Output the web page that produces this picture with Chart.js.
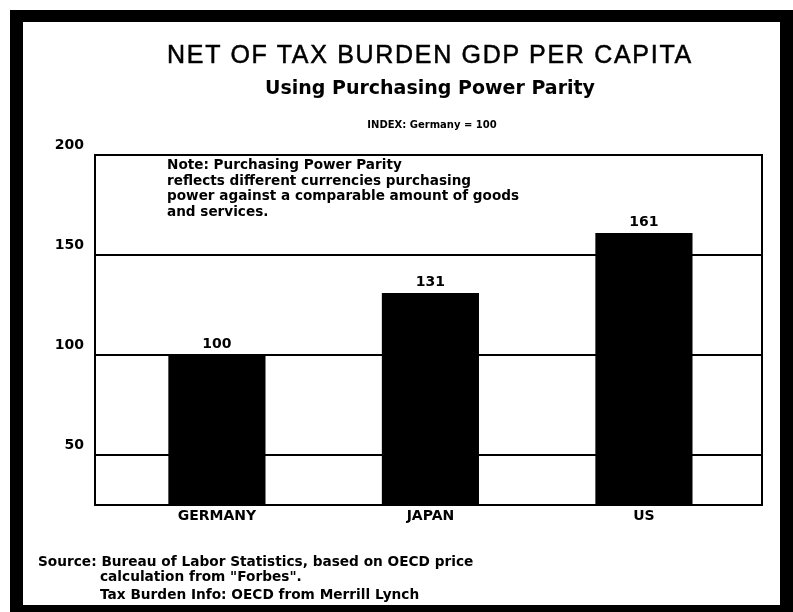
<!DOCTYPE html>
<html>
<head>
<meta charset="utf-8">
<script src="https://cdn.jsdelivr.net/npm/chart.js@4.4.1/dist/chart.umd.min.js"></script>
<style>
  html, body { margin: 0; padding: 0; background: #fff; width: 793px; height: 612px; overflow: hidden; }
  #c { position: absolute; left: 0; top: 0; }
  #frame { position: absolute; left: 10px; top: 10px; width: 783px; height: 602px; box-sizing: border-box;
           border-style: solid; border-color: #000; border-width: 12px 13px 7px 13px; }
  .t { position: absolute; color: #000; white-space: nowrap; }
  #title { left: 130px; width: 600px; top: 42px; text-align: center; font: 25px/25px "Liberation Sans", Arial, sans-serif; letter-spacing: 1.7px; -webkit-text-stroke: 0.5px #000; }
  #subtitle { left: 130px; width: 600px; top: 78px; text-align: center; font: bold 19px/19px "DejaVu Sans", sans-serif; }
  #index { left: 132px; width: 600px; top: 120px; text-align: center; font: bold 10px/10px "DejaVu Sans", sans-serif; }
  #note { left: 167px; top: 157px; font: bold 13.6px/15.5px "DejaVu Sans", sans-serif; }
  #source { left: 38px; top: 554px; font: bold 13.7px/15px "DejaVu Sans", sans-serif; }
  #source .ind { display: block; padding-left: 62px; }
  #source .gap { margin-top: 3px; }
</style>
</head>
<body>
<canvas id="c" width="793" height="612"></canvas>
<div id="frame"></div>
<div class="t" id="title">NET OF TAX BURDEN GDP PER CAPITA</div>
<div class="t" id="subtitle">Using Purchasing Power Parity</div>
<div class="t" id="index">INDEX: Germany = 100</div>
<div class="t" id="note">Note: Purchasing Power Parity<br>reflects different currencies purchasing<br>power against a comparable amount of goods<br>and services.</div>
<div class="t" id="source">Source: Bureau of Labor Statistics, based on OECD price<span class="ind">calculation from "Forbes".</span><span class="ind gap">Tax Burden Info: OECD from Merrill Lynch</span></div>
<script>
// ---- data ----
const categories = ["GERMANY", "JAPAN", "US"];
const values = [100, 131, 161];
const yTickValues = [50, 100, 150, 200];
const yMin = 25;
const yMax = 200;

Chart.defaults.font.family = '"DejaVu Sans", sans-serif';
Chart.defaults.color = '#000';

const valueLabelPlugin = {
  id: 'valueLabels',
  afterDatasetsDraw(chart) {
    const ctx = chart.ctx;
    const meta = chart.getDatasetMeta(0);
    const data = chart.data.datasets[0].data;
    ctx.save();
    ctx.font = 'bold 14px "DejaVu Sans", sans-serif';
    ctx.fillStyle = '#000';
    ctx.textAlign = 'center';
    ctx.textBaseline = 'bottom';
    meta.data.forEach((bar, i) => {
      ctx.fillText(String(data[i].y), bar.x, bar.y - 4);
    });
    ctx.restore();
  }
};

new Chart(document.getElementById('c'), {
  type: 'bar',
  data: {
    datasets: [{
      data: categories.map((c, i) => ({ x: i, y: values[i] })),
      backgroundColor: '#000',
      borderWidth: 0,
      barPercentage: 0.455,
      categoryPercentage: 1.0
    }]
  },
  options: {
    responsive: false,
    animation: false,
    devicePixelRatio: 1,
    layout: { padding: { top: 155, left: 0, right: 31, bottom: 77 } },
    plugins: { legend: { display: false }, tooltip: { enabled: false }, title: { display: false } },
    scales: {
      x: {
        type: 'linear',
        min: -0.571,
        max: 2.553,
        offset: false,
        afterBuildTicks(scale) { scale.ticks = categories.map((c, i) => ({ value: i })); },
        grid: { display: false, drawTicks: false },
        border: { display: true, color: '#000', width: 2 },
        ticks: { font: { size: 14, weight: 'bold' }, padding: 3, color: '#000',
                 callback: (v) => categories[v] },
        afterFit(scale) { scale.height = 30; }
      },
      y: {
        type: 'linear',
        min: yMin,
        max: yMax,
        afterBuildTicks(scale) { scale.ticks = yTickValues.map(v => ({ value: v })); },
        grid: { color: '#000', lineWidth: 2, drawTicks: false },
        border: { display: true, color: '#000', width: 2 },
        ticks: { font: { size: 14, weight: 'bold' }, padding: 11, labelOffset: -10, color: '#000' },
        afterFit(scale) { scale.width = 95; }
      },
      yRight: {
        type: 'linear',
        position: 'right',
        display: true,
        min: yMin,
        max: yMax,
        grid: { display: false, drawTicks: false },
        border: { display: true, color: '#000', width: 2 },
        ticks: { display: false },
        afterFit(scale) { scale.width = 0; }
      }
    }
  },
  plugins: [valueLabelPlugin]
});
</script>
</body>
</html>
